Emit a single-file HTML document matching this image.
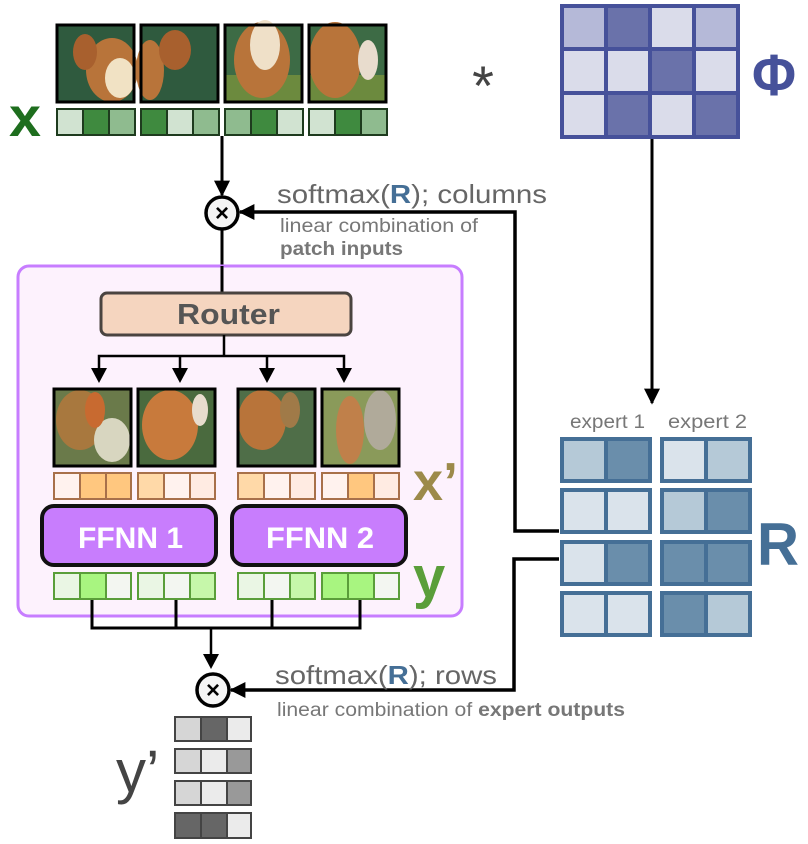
<!DOCTYPE html>
<html><head><meta charset="utf-8"><style>
html,body{margin:0;padding:0;background:#fff;}
svg{display:block;font-family:"Liberation Sans",sans-serif;}
</style></head><body>
<svg width="808" height="844" viewBox="0 0 808 844" xmlns="http://www.w3.org/2000/svg">
<defs>
<marker id="ah" markerWidth="16" markerHeight="16" refX="9" refY="5" orient="auto" markerUnits="userSpaceOnUse" viewBox="0 0 10 10"><path d="M0,0 L10,5 L0,10 z" fill="#000"/></marker>
</defs>

<g stroke="#000" stroke-width="3">
<rect x="57" y="25" width="77" height="77" fill="#2f5a3e"/>
<rect x="141" y="25" width="77" height="77" fill="#2f5a3e"/>
<rect x="225" y="25" width="77" height="77" fill="#3d6b45"/>
<rect x="309" y="25" width="77" height="77" fill="#3d6b45"/>
</g>
<g stroke="none">
<ellipse cx="112" cy="70" rx="26" ry="32" fill="#b8743a"/>
<ellipse cx="120" cy="78" rx="15" ry="20" fill="#f1e2c4"/>
<ellipse cx="85" cy="52" rx="12" ry="18" fill="#a8602e"/>
<ellipse cx="150" cy="70" rx="14" ry="30" fill="#b8743a"/>
<ellipse cx="175" cy="50" rx="16" ry="20" fill="#a8602e"/>
<rect x="226" y="75" width="75" height="26" fill="#6c8a3e"/>
<ellipse cx="262" cy="60" rx="28" ry="38" fill="#b8743a"/>
<ellipse cx="265" cy="45" rx="15" ry="25" fill="#efe0c8"/>
<rect x="310" y="75" width="75" height="26" fill="#6c8a3e"/>
<ellipse cx="335" cy="60" rx="26" ry="38" fill="#b8743a"/>
<ellipse cx="368" cy="60" rx="10" ry="20" fill="#e8dccd"/>
</g>
<rect x="57" y="25" width="77" height="77" fill="none" stroke="#000" stroke-width="3"/>
<rect x="141" y="25" width="77" height="77" fill="none" stroke="#000" stroke-width="3"/>
<rect x="225" y="25" width="77" height="77" fill="none" stroke="#000" stroke-width="3"/>
<rect x="309" y="25" width="77" height="77" fill="none" stroke="#000" stroke-width="3"/>

<g stroke="#1e3b1e" stroke-width="2">
<rect x="57" y="109" width="26" height="26" fill="#d1e3d1"/><rect x="83" y="109" width="26" height="26" fill="#3f8a3f"/><rect x="109" y="109" width="26" height="26" fill="#8fbb8f"/>
<rect x="141" y="109" width="26" height="26" fill="#3f8a3f"/><rect x="167" y="109" width="26" height="26" fill="#d1e3d1"/><rect x="193" y="109" width="26" height="26" fill="#8fbb8f"/>
<rect x="225" y="109" width="26" height="26" fill="#8fbb8f"/><rect x="251" y="109" width="26" height="26" fill="#3f8a3f"/><rect x="277" y="109" width="26" height="26" fill="#d1e3d1"/>
<rect x="309" y="109" width="26" height="26" fill="#d1e3d1"/><rect x="335" y="109" width="26" height="26" fill="#3f8a3f"/><rect x="361" y="109" width="26" height="26" fill="#8fbb8f"/>
</g>
<text x="9" y="136" font-size="56" font-weight="bold" fill="#1e6e1e" textLength="32" lengthAdjust="spacingAndGlyphs">x</text>

<line x1="222" y1="136" x2="222" y2="195" stroke="#000" stroke-width="3" marker-end="url(#ah)"/>
<line x1="222" y1="230" x2="222" y2="267" stroke="#000" stroke-width="3"/>
<circle cx="222" cy="213" r="16" fill="#f4f4f4" stroke="#000" stroke-width="3.5"/>
<text x="222" y="221" font-size="24" font-weight="bold" text-anchor="middle">×</text>

<text x="483" y="105" font-size="56" fill="#444" text-anchor="middle">*</text>
<g stroke="#46519a" stroke-width="4">
<rect x="562" y="6" width="44" height="43" fill="#b5b9d8"/><rect x="606" y="6" width="44" height="43" fill="#6a72aa"/><rect x="650" y="6" width="44" height="43" fill="#dadcea"/><rect x="694" y="6" width="44" height="43" fill="#b5b9d8"/>
<rect x="562" y="49" width="44" height="44" fill="#dadcea"/><rect x="606" y="49" width="44" height="44" fill="#dadcea"/><rect x="650" y="49" width="44" height="44" fill="#6a72aa"/><rect x="694" y="49" width="44" height="44" fill="#dadcea"/>
<rect x="562" y="93" width="44" height="44" fill="#dadcea"/><rect x="606" y="93" width="44" height="44" fill="#6a72aa"/><rect x="650" y="93" width="44" height="44" fill="#dadcea"/><rect x="694" y="93" width="44" height="44" fill="#6a72aa"/>
</g>
<text x="752" y="95" font-size="58" font-weight="bold" fill="#46519a" textLength="44" lengthAdjust="spacingAndGlyphs">Φ</text>
<line x1="652" y1="139" x2="652" y2="403" stroke="#000" stroke-width="3" marker-end="url(#ah)"/>

<polyline points="559,531 515,531 515,212 240,212" fill="none" stroke="#000" stroke-width="3.5" marker-end="url(#ah)"/>
<text x="277" y="203" font-size="26" fill="#666" textLength="270" lengthAdjust="spacingAndGlyphs">softmax(<tspan fill="#456f96" font-weight="bold">R</tspan>); columns</text>
<text x="280" y="232" font-size="19" fill="#777" textLength="198" lengthAdjust="spacingAndGlyphs">linear combination of</text>
<text x="280" y="255" font-size="19" fill="#777" font-weight="bold" textLength="123" lengthAdjust="spacingAndGlyphs">patch inputs</text>

<rect x="18" y="266" width="444" height="350" rx="11" fill="#fdf2fd" stroke="#c77dff" stroke-width="3"/>

<line x1="222" y1="266" x2="222" y2="293" stroke="#000" stroke-width="3"/>
<rect x="101" y="293" width="250" height="42" rx="6" fill="#f5d5bf" stroke="#4a4440" stroke-width="3"/>
<text x="177" y="324" font-size="29" font-weight="bold" fill="#555" textLength="103" lengthAdjust="spacingAndGlyphs">Router</text>
<polyline points="224,335 224,356" fill="none" stroke="#000" stroke-width="2.5"/>
<polyline points="99,370 99,356 344,356 344,370" fill="none" stroke="#000" stroke-width="2.5"/>
<line x1="180" y1="356" x2="180" y2="370" stroke="#000" stroke-width="2.5"/>
<line x1="267" y1="356" x2="267" y2="370" stroke="#000" stroke-width="2.5"/>
<g fill="#000">
<path d="M91,368 L107,368 L99,383 z"/><path d="M172,368 L188,368 L180,383 z"/><path d="M259,368 L275,368 L267,383 z"/><path d="M336,368 L352,368 L344,383 z"/>
</g>

<g stroke="none">
<rect x="54" y="389" width="77" height="77" fill="#6a7a4a"/>
<ellipse cx="80" cy="420" rx="24" ry="30" fill="#a8783e"/>
<ellipse cx="112" cy="440" rx="18" ry="22" fill="#d8d6c0"/>
<ellipse cx="95" cy="410" rx="10" ry="18" fill="#c86a30"/>
<rect x="138" y="389" width="77" height="77" fill="#4a6a3e"/>
<ellipse cx="170" cy="425" rx="28" ry="35" fill="#c87a3c"/>
<ellipse cx="200" cy="410" rx="8" ry="16" fill="#e8dccd"/>
<rect x="238" y="389" width="77" height="77" fill="#4f6e48"/>
<ellipse cx="262" cy="420" rx="24" ry="30" fill="#b8743a"/>
<ellipse cx="290" cy="410" rx="10" ry="18" fill="#a07a48"/>
<rect x="322" y="389" width="77" height="77" fill="#8a9a5a"/>
<ellipse cx="350" cy="430" rx="14" ry="34" fill="#c0804a"/>
<ellipse cx="380" cy="420" rx="16" ry="30" fill="#b0aa9a"/>
</g>
<g fill="none" stroke="#000" stroke-width="3">
<rect x="54" y="389" width="77" height="77"/><rect x="138" y="389" width="77" height="77"/><rect x="238" y="389" width="77" height="77"/><rect x="322" y="389" width="77" height="77"/>
</g>

<g stroke="#a8704a" stroke-width="2">
<rect x="54" y="473" width="26" height="26" fill="#fff2ee"/><rect x="80" y="473" width="26" height="26" fill="#ffc77f"/><rect x="106" y="473" width="25" height="26" fill="#ffc77f"/>
<rect x="138" y="473" width="26" height="26" fill="#ffd9a8"/><rect x="164" y="473" width="26" height="26" fill="#fff2ee"/><rect x="190" y="473" width="25" height="26" fill="#ffebe2"/>
<rect x="238" y="473" width="26" height="26" fill="#ffd9a8"/><rect x="264" y="473" width="26" height="26" fill="#fff2ee"/><rect x="290" y="473" width="25" height="26" fill="#ffebe2"/>
<rect x="322" y="473" width="26" height="26" fill="#fff2ee"/><rect x="348" y="473" width="26" height="26" fill="#ffc77f"/><rect x="374" y="473" width="25" height="26" fill="#ffebe2"/>
</g>
<text x="413" y="500" font-size="54" font-weight="bold" fill="#9c8a4a">x’</text>

<rect x="42" y="506" width="174" height="59" rx="12" fill="#c87dfd" stroke="#111" stroke-width="4"/>
<rect x="232" y="506" width="174" height="59" rx="12" fill="#c87dfd" stroke="#111" stroke-width="4"/>
<text x="78" y="548" font-size="30" font-weight="bold" fill="#fff" textLength="105" lengthAdjust="spacingAndGlyphs">FFNN 1</text>
<text x="266" y="548" font-size="30" font-weight="bold" fill="#fff" textLength="108" lengthAdjust="spacingAndGlyphs">FFNN 2</text>

<g stroke="#5a9e3a" stroke-width="2">
<rect x="54" y="573" width="26" height="26" fill="#eaf6e4"/><rect x="80" y="573" width="26" height="26" fill="#a8f580"/><rect x="106" y="573" width="25" height="26" fill="#f3f6f1"/>
<rect x="138" y="573" width="26" height="26" fill="#eaf6e4"/><rect x="164" y="573" width="26" height="26" fill="#f3f6f1"/><rect x="190" y="573" width="25" height="26" fill="#c6f7aa"/>
<rect x="238" y="573" width="26" height="26" fill="#eaf6e4"/><rect x="264" y="573" width="26" height="26" fill="#f3f6f1"/><rect x="290" y="573" width="25" height="26" fill="#c6f7aa"/>
<rect x="322" y="573" width="26" height="26" fill="#a8f580"/><rect x="348" y="573" width="26" height="26" fill="#a8f580"/><rect x="374" y="573" width="25" height="26" fill="#f3f6f1"/>
</g>
<text x="413" y="597" font-size="58" font-weight="bold" fill="#5a9e3a">y</text>

<polyline points="92,600 92,628 360,628 360,600" fill="none" stroke="#000" stroke-width="3"/>
<line x1="176" y1="600" x2="176" y2="628" stroke="#000" stroke-width="3"/>
<line x1="272" y1="600" x2="272" y2="628" stroke="#000" stroke-width="3"/>
<line x1="211" y1="628" x2="211" y2="656" stroke="#000" stroke-width="2.5"/>
<path d="M203,654 L219,654 L211,669 z" fill="#000"/>
<circle cx="213" cy="690" r="16" fill="#f4f4f4" stroke="#000" stroke-width="3.5"/>
<text x="213" y="698" font-size="24" font-weight="bold" text-anchor="middle">×</text>

<polyline points="559,559 514,559 514,690 231,690" fill="none" stroke="#000" stroke-width="3.5" marker-end="url(#ah)"/>
<text x="275" y="684" font-size="26" fill="#666" textLength="222" lengthAdjust="spacingAndGlyphs">softmax(<tspan fill="#456f96" font-weight="bold">R</tspan>); rows</text>
<text x="277" y="716" font-size="19" fill="#777" textLength="348" lengthAdjust="spacingAndGlyphs">linear combination of <tspan font-weight="bold">expert outputs</tspan></text>

<text x="570" y="428" font-size="19" fill="#777" textLength="75" lengthAdjust="spacingAndGlyphs">expert 1</text>
<text x="668" y="428" font-size="19" fill="#777" textLength="79" lengthAdjust="spacingAndGlyphs">expert 2</text>
<g stroke="#456f96" stroke-width="4">
<rect x="562" y="439" width="44" height="42" fill="#b5c9d7"/><rect x="606" y="439" width="44" height="42" fill="#6a8eab"/>
<rect x="662" y="439" width="44" height="42" fill="#dae3eb"/><rect x="706" y="439" width="44" height="42" fill="#b5c9d7"/>
<rect x="562" y="490" width="44" height="42" fill="#dae3eb"/><rect x="606" y="490" width="44" height="42" fill="#dae3eb"/>
<rect x="662" y="490" width="44" height="42" fill="#b5c9d7"/><rect x="706" y="490" width="44" height="42" fill="#6a8eab"/>
<rect x="562" y="542" width="44" height="42" fill="#dae3eb"/><rect x="606" y="542" width="44" height="42" fill="#6a8eab"/>
<rect x="662" y="542" width="44" height="42" fill="#6a8eab"/><rect x="706" y="542" width="44" height="42" fill="#6a8eab"/>
<rect x="562" y="593" width="44" height="42" fill="#dae3eb"/><rect x="606" y="593" width="44" height="42" fill="#dae3eb"/>
<rect x="662" y="593" width="44" height="42" fill="#6a8eab"/><rect x="706" y="593" width="44" height="42" fill="#b5c9d7"/>
</g>
<text x="757" y="565" font-size="60" font-weight="bold" fill="#456f96" textLength="42" lengthAdjust="spacingAndGlyphs">R</text>

<g stroke="#444" stroke-width="2">
<rect x="175" y="717" width="26" height="24" fill="#d6d6d6"/><rect x="201" y="717" width="26" height="24" fill="#666"/><rect x="227" y="717" width="24" height="24" fill="#ebebeb"/>
<rect x="175" y="749" width="26" height="24" fill="#d6d6d6"/><rect x="201" y="749" width="26" height="24" fill="#ebebeb"/><rect x="227" y="749" width="24" height="24" fill="#999"/>
<rect x="175" y="781" width="26" height="24" fill="#d6d6d6"/><rect x="201" y="781" width="26" height="24" fill="#ebebeb"/><rect x="227" y="781" width="24" height="24" fill="#999"/>
<rect x="175" y="813" width="26" height="25" fill="#666"/><rect x="201" y="813" width="26" height="25" fill="#666"/><rect x="227" y="813" width="24" height="25" fill="#ebebeb"/>
</g>
<text x="116" y="792" font-size="60" fill="#444">y’</text>
</svg>
</body></html>
